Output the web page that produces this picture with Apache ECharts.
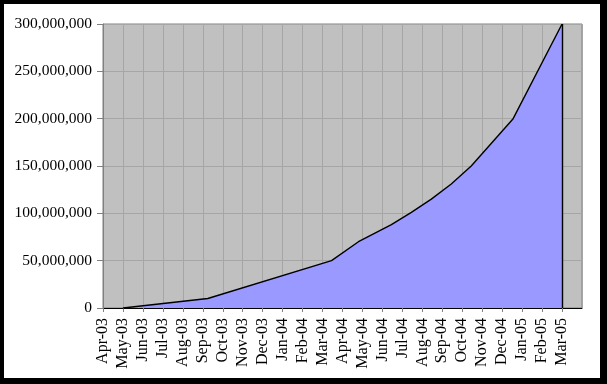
<!DOCTYPE html>
<html>
<head>
<meta charset="utf-8">
<script src="https://cdn.jsdelivr.net/npm/echarts@6/dist/echarts.min.js"></script>
<style>
  html, body { margin: 0; padding: 0; background: #000; width: 607px; height: 384px; overflow: hidden; }
  #chart { position: absolute; left: 4px; top: 4px; width: 596px; height: 374px; background: #fff; }
</style>
</head>
<body>
<div id="chart"></div>
<script>
// Month labels along the x axis (index 0 = Apr-03)
const categories = ['Apr-03','May-03','Jun-03','Jul-03','Aug-03','Sep-03','Oct-03','Nov-03','Dec-03',
  'Jan-04','Feb-04','Mar-04','Apr-04','May-04','Jun-04','Jul-04','Aug-04','Sep-04','Oct-04','Nov-04',
  'Dec-04','Jan-05','Feb-05','Mar-05'];
const monthPos = [1, 5.25, 11.45, 12.8, 14.45, 15.45, 16.45, 17.45, 18.45, 20.55, 23];
// Values at those positions
const values = [0, 10e6, 50e6, 70e6, 88e6, 101e6, 115e6, 131e6, 150e6, 200e6, 300e6];
// Y-axis range / step
const yMax = 300e6;
const yStep = 50e6;

const data = monthPos.map((m, i) => [m, values[i]]);
const last = data[data.length - 1];
const font = "'Liberation Serif', 'Times New Roman', serif";

const chart = echarts.init(document.getElementById('chart'));
chart.setOption({
  animation: false,
  backgroundColor: '#fff',
  grid: {
    left: 99, top: 20, width: 479, height: 284,
    show: true, backgroundColor: '#c0c0c0', borderColor: '#808080', borderWidth: 1
  },
  xAxis: {
    type: 'value', min: 0, max: categories.length, interval: 1,
    axisLine: { show: true, lineStyle: { color: '#000', width: 1 } },
    axisTick: { show: true, length: 4, lineStyle: { color: '#808080' } },
    splitLine: { show: true, lineStyle: { color: '#a6a6a6', width: 1 } },
    axisLabel: {
      rotate: 90, margin: 10, color: '#000', fontFamily: font, fontSize: 16,
      showMaxLabel: false,
      formatter: v => (categories[Math.round(v)] !== undefined ? categories[Math.round(v)] : '')
    }
  },
  yAxis: {
    type: 'value', min: 0, max: yMax, interval: yStep,
    axisLine: { show: true, lineStyle: { color: '#808080', width: 1 } },
    axisTick: { show: true, length: 6, lineStyle: { color: '#808080' } },
    splitLine: { show: true, lineStyle: { color: '#a6a6a6', width: 1 } },
    axisLabel: {
      margin: 11, color: '#000', fontFamily: font, fontSize: 15.5,
      formatter: v => Math.round(v).toLocaleString('en-US')
    }
  },
  series: [{
    type: 'line',
    data: data,
    symbol: 'none',
    lineStyle: { color: '#000', width: 1.4 },
    areaStyle: { color: '#9999ff', opacity: 1 },
    markLine: {
      silent: true, symbol: 'none', label: { show: false },
      lineStyle: { color: '#000', width: 1.4, type: 'solid' },
      data: [[{ coord: [last[0], last[1]] }, { coord: [last[0], 0] }]]
    }
  }]
});
</script>
</body>
</html>
